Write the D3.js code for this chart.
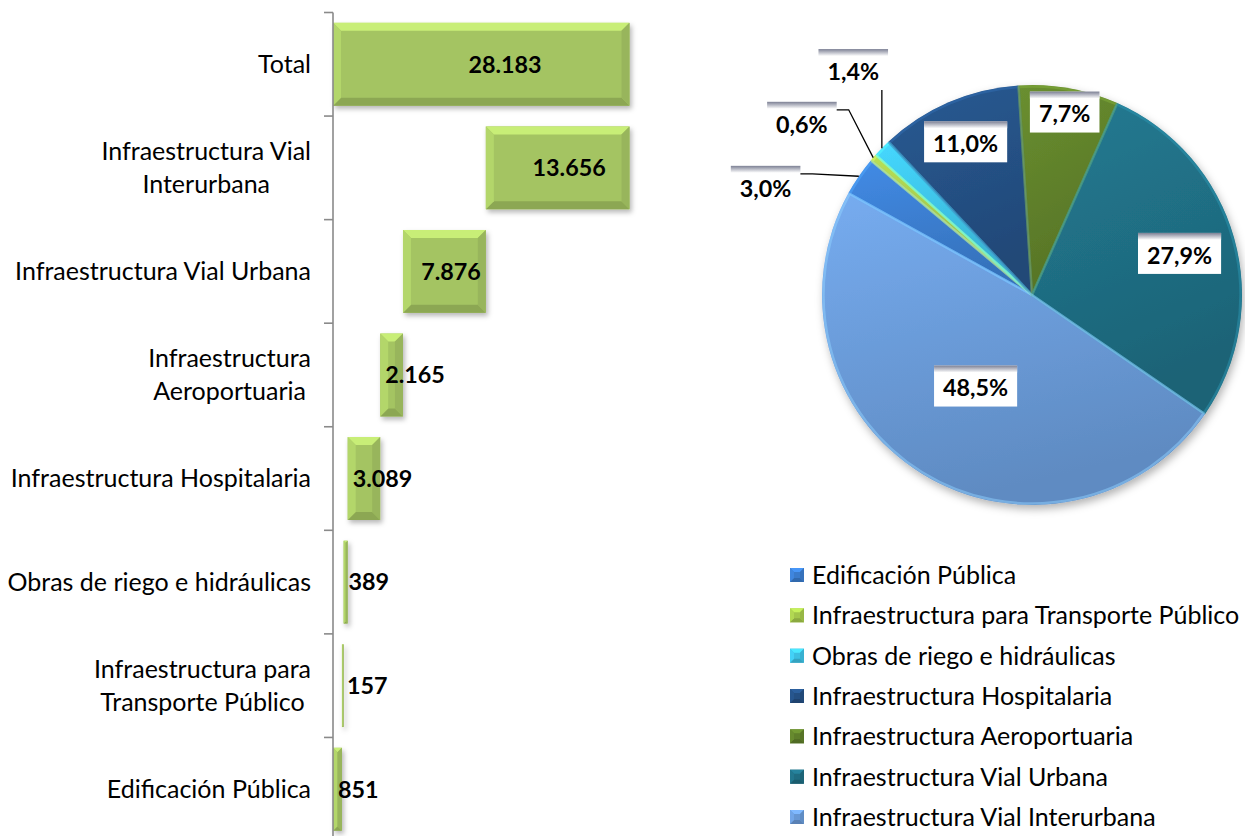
<!DOCTYPE html>
<html><head><meta charset="utf-8">
<script src="https://cdn.jsdelivr.net/npm/d3@7"></script>
<style>
body{margin:0;background:#fff}
svg{display:block}
text{font-family:Lato,"Open Sans",sans-serif;fill:#000}
</style>
</head><body>
<svg id="c" width="1245" height="836"></svg>
<script>
// ---------------- DATA ----------------
const categories = [
  "Total",
  "Infraestructura Vial\nInterurbana",
  "Infraestructura Vial Urbana",
  "Infraestructura\nAeroportuaria",
  "Infraestructura Hospitalaria",
  "Obras de riego e hidráulicas",
  "Infraestructura para\nTransporte Público",
  "Edificación Pública"
];
const barValues = [28183, 13656, 7876, 2165, 3089, 389, 157, 851];

const pieCategories = [
  "Edificación Pública",
  "Infraestructura para Transporte Público",
  "Obras de riego e hidráulicas",
  "Infraestructura Hospitalaria",
  "Infraestructura Aeroportuaria",
  "Infraestructura Vial Urbana",
  "Infraestructura Vial Interurbana"
];
const pieValues = [851, 157, 389, 3089, 2165, 7876, 13656];
const pieColors = ["#3a7bcb", "#a3c64b", "#3dbfe2", "#244f82", "#5e7e2a", "#1f6c81", "#6898d4"];

// ---------------- SETUP ----------------
const W = 1245, H = 836;
const FONT = 25;
const BFONT = 23.3;
const CAP = 0.7165;
const svg = d3.select("#c");
const defs = svg.append("defs");

defs.append("filter").attr("id", "shadow").attr("filterUnits", "userSpaceOnUse")
  .attr("x", -W).attr("y", -H).attr("width", 3 * W).attr("height", 3 * H)
  .html('<feDropShadow dx="2" dy="3" stdDeviation="2.5" flood-color="#000" flood-opacity="0.28"/>');
defs.append("filter").attr("id", "pieShadow").attr("filterUnits", "userSpaceOnUse")
  .attr("x", -W).attr("y", -H).attr("width", 3 * W).attr("height", 3 * H)
  .html('<feDropShadow dx="2" dy="4" stdDeviation="4" flood-color="#000" flood-opacity="0.3"/>');

const strip = defs.append("linearGradient").attr("id", "strip").attr("x1", 0).attr("y1", 0).attr("x2", 0).attr("y2", 1);
strip.append("stop").attr("offset", 0).attr("stop-color", "#7c8094");
strip.append("stop").attr("offset", 1).attr("stop-color", "#ffffff");

function bevel(g, x0, y0, w, h, b, c) {
  const base = d3.color(c);
  g.append("rect").attr("x", x0).attr("y", y0).attr("width", w).attr("height", h).attr("fill", base.formatHex());
  const x1 = x0 + w, y1 = y0 + h;
  const faces = [
    [[x0, y0], [x1, y0], [x1 - b, y0 + b], [x0 + b, y0 + b], base.brighter(0.55)],
    [[x0, y1], [x1, y1], [x1 - b, y1 - b], [x0 + b, y1 - b], base.darker(0.45)],
    [[x0, y0], [x0 + b, y0 + b], [x0 + b, y1 - b], [x0, y1], base.brighter(0.25)],
    [[x1, y0], [x1 - b, y0 + b], [x1 - b, y1 - b], [x1, y1], base.darker(0.22)]
  ];
  faces.forEach(f => {
    g.append("path").attr("d", "M" + f.slice(0, 4).map(p => p.join(",")).join("L") + "Z")
      .attr("fill", f[4].formatHex());
  });
}

// ---------------- BAR CHART ----------------
const base = new Array(categories.length).fill(0);
let acc = 0;
for (let i = categories.length - 1; i >= 1; i--) { base[i] = acc; acc += barValues[i]; }
base[0] = 0;

const x = d3.scaleLinear().domain([0, d3.max(barValues)]).range([333, 629.5]);
const y = d3.scaleBand().domain(categories).range([12.5, 841]).paddingInner(0.2).paddingOuter(0.1);

const locale = d3.formatLocale({decimal: ",", thousands: ".", grouping: [3], currency: ["$", ""]});
const fmtInt = locale.format(",d");
const fmtPct = locale.format(".1%");

const barG = svg.append("g").attr("filter", "url(#shadow)");
categories.forEach((c, i) => {
  const x0 = x(base[i]), x1 = x(base[i] + barValues[i]);
  const w = x1 - x0, h = y.bandwidth();
  const b = Math.min(8, w / 2, h / 2);
  bevel(barG.append("g"), x0, y(c), w, h, b, "#a4c462");
});

// axis
const axisG = svg.append("g").attr("transform", "translate(333,0)");
axisG.call(d3.axisLeft(y).tickSize(0).tickFormat(""));
axisG.select(".domain").attr("stroke", "#8a8a8a").attr("stroke-width", 1.6).attr("d", `M0,${y.range()[0]}V${H}`);
const step = y.step();
d3.range(categories.length + 1).forEach(k => {
  const yy = y.range()[0] + k * step;
  axisG.append("line").attr("x1", -9).attr("x2", 0).attr("y1", yy).attr("y2", yy)
    .attr("stroke", "#8a8a8a").attr("stroke-width", 1.6);
});

// category labels
const lineH = 33;
categories.forEach(c => {
  const lines = c.split("\n");
  const cy = y(c) + y.bandwidth() / 2;
  const g = svg.append("g");
  const ts = lines.map((l, j) => g.append("text").attr("font-size", FONT).text(l)
    .attr("y", cy + (j - (lines.length - 1) / 2) * lineH + FONT * CAP / 2));
  const maxW = d3.max(ts, t => t.node().getComputedTextLength());
  ts.forEach(t => t.attr("text-anchor", "middle").attr("x", 311 - maxW / 2));
});

// value labels
categories.forEach((c, i) => {
  const t = svg.append("text").attr("font-size", BFONT).attr("font-weight", "bold").text(fmtInt(barValues[i]));
  const tw = t.node().getComputedTextLength();
  let left = x(base[i] + 0.58 * barValues[i]) - tw / 2;
  left = Math.max(left, x(base[i]) + 5);
  t.attr("x", left).attr("y", y(c) + y.bandwidth() / 2 + BFONT * CAP / 2);
});

// ---------------- PIE ----------------
const pcx = 1032, pcy = 295, R = 210;
const a0 = -61 * Math.PI / 180;
const total = d3.sum(pieValues);
const pie = d3.pie().sort(null).startAngle(a0).endAngle(a0 + 2 * Math.PI);
const arcs = pie(pieValues);
const arc = d3.arc().innerRadius(0).outerRadius(R);

pieColors.forEach((c, i) => {
  const g = defs.append("linearGradient").attr("id", "pg" + i).attr("x1", 0).attr("y1", 0).attr("x2", 0.3).attr("y2", 1);
  g.append("stop").attr("offset", 0).attr("stop-color", d3.color(c).brighter(0.35).formatHex());
  g.append("stop").attr("offset", 1).attr("stop-color", d3.color(c).darker(0.25).formatHex());
});

const pieG = svg.append("g").attr("transform", `translate(${pcx},${pcy})`);
const sl = pieG.append("g").attr("filter", "url(#pieShadow)");
sl.selectAll("path").data(arcs).join("path")
  .attr("d", arc).attr("fill", (d, i) => `url(#pg${i})`);
pieG.append("g").selectAll("path").data(arcs).join("path")
  .attr("d", d3.arc().innerRadius(0).outerRadius(R - 1.5))
  .attr("fill", "none")
  .attr("stroke", (d, i) => d3.color(pieColors[i]).brighter(0.9).formatHex())
  .attr("stroke-opacity", 0.5).attr("stroke-width", 2.5).attr("stroke-linejoin", "round");

function labelBox(px, py, txt) {
  const g = svg.append("g");
  const t = g.append("text").attr("font-size", BFONT).attr("font-weight", "bold")
    .attr("text-anchor", "middle").text(txt);
  const tw = t.node().getComputedTextLength();
  const bw = tw + 18, bh = 41;
  g.insert("rect", "text").attr("x", px - bw / 2).attr("y", py - bh / 2).attr("width", bw).attr("height", bh).attr("fill", "#fff");
  g.insert("rect", "text").attr("x", px - bw / 2).attr("y", py - bh / 2).attr("width", bw).attr("height", 7).attr("fill", "url(#strip)");
  t.attr("x", px).attr("y", py + 2 + BFONT * CAP / 2);
  return {x0: px - bw / 2, x1: px + bw / 2, y0: py - bh / 2, y1: py + bh / 2};
}

function insideR(p) { return p < 0.1 ? 0.885 : p < 0.2 ? 0.795 : p < 0.4 ? 0.73 : 0.51; }

const outside = [];
arcs.forEach((d, i) => {
  const p = d.value / total;
  const mid = (d.startAngle + d.endAngle) / 2;
  if (p >= 0.05) {
    const rr = R * insideR(p);
    labelBox(pcx + rr * Math.sin(mid), pcy - rr * Math.cos(mid), fmtPct(p));
  } else {
    outside.push({d, p, mid});
  }
});

const meanMid = d3.mean(outside, o => o.mid);
const spread = 14.7 * Math.PI / 180;
outside.forEach((o, k) => {
  const ang = meanMid - 3 * Math.PI / 180 + (k - (outside.length - 1) / 2) * spread;
  const rr = R * 1.37;
  const bx = labelBox(pcx + rr * Math.sin(ang), pcy - rr * Math.cos(ang), fmtPct(o.p));
  const ex = pcx + R * Math.sin(o.mid), ey = pcy - R * Math.cos(o.mid);
  let path;
  if (ex >= bx.x0 && ex <= bx.x1) {
    path = `M${ex},${bx.y1}V${ey}`;
  } else {
    const ly = bx.y0 + 8;
    path = `M${bx.x1},${ly}H${bx.x1 + 12}L${ex},${ey}`;
  }
  svg.append("path").attr("d", path).attr("fill", "none").attr("stroke", "#000").attr("stroke-width", 1.3);
});

// ---------------- LEGEND ----------------
const legY = d3.scalePoint().domain(pieCategories).range([575, 817]);
pieCategories.forEach((c, i) => {
  const g = svg.append("g");
  bevel(g, 790, legY(c) - 7, 14, 14, 4, pieColors[i]);
  svg.append("text").attr("font-size", FONT).attr("x", 812).attr("y", legY(c) + FONT * CAP / 2).text(c);
});
</script>
</body></html>
